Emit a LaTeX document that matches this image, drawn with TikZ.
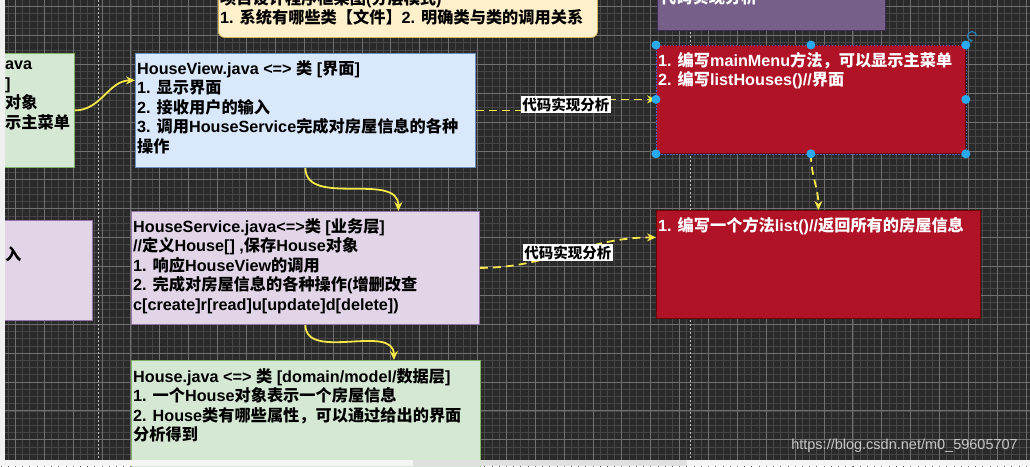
\documentclass[tikz,border=0pt]{standalone}
\usepackage{fontspec}
\setmainfont{Liberation Sans}
\newfontfamily\cjkfont{Noto Sans CJK SC}
% switch to the CJK face for Chinese characters
\XeTeXinterchartokenstate=1
\newXeTeXintercharclass\cjkclass
\makeatletter
\count@="3000
\loop\ifnum\count@<"3040 \XeTeXcharclass\count@=\cjkclass \advance\count@\@ne\repeat
\count@="4E00
\loop\ifnum\count@<"A000 \XeTeXcharclass\count@=\cjkclass \advance\count@\@ne\repeat
\count@="FF00
\loop\ifnum\count@<"FFF0 \XeTeXcharclass\count@=\cjkclass \advance\count@\@ne\repeat
\makeatother
\XeTeXinterchartoks 0 \cjkclass = {\begingroup\cjkfont}
\XeTeXinterchartoks 4095 \cjkclass = {\begingroup\cjkfont}
\XeTeXinterchartoks \cjkclass 0 = {\endgroup}
\XeTeXinterchartoks \cjkclass 4095 = {\endgroup}
\usepackage{tikz}
\usetikzlibrary{arrows.meta, positioning}
\definecolor{colCanvas}{RGB}{42,42,42}
\definecolor{colGridMinor}{RGB}{70,70,70}
\definecolor{colGridMajor}{RGB}{112,112,112}
\definecolor{colGreen}{RGB}{213,232,212}
\definecolor{colGreenLine}{RGB}{130,179,102}
\definecolor{colBlue}{RGB}{218,232,252}
\definecolor{colBlueLine}{RGB}{108,142,191}
\definecolor{colLilac}{RGB}{225,213,231}
\definecolor{colLilacLine}{RGB}{150,115,166}
\definecolor{colNote}{RGB}{255,240,204}
\definecolor{colNoteLine}{RGB}{214,182,86}
\definecolor{colRed}{RGB}{176,18,38}
\definecolor{colRedLine}{RGB}{111,0,0}
\definecolor{colPlum}{RGB}{118,96,138}
\definecolor{colPlumLine}{RGB}{67,45,87}
\definecolor{colLink}{RGB}{245,232,72}
\definecolor{colHandle}{RGB}{41,170,238}

\begin{document}
\begin{tikzpicture}[
		x=1pt, y=-1pt,
		every node/.style={font=\fontsize{16.2}{19.5}\selectfont\bfseries},
		box/.style={draw, line width=0.8pt, anchor=north west, inner sep=0pt},
		boxtext/.style={anchor=north west, align=left, inner sep=0pt},
		link/.style={colLink, line width=1.8pt, -{Stealth[length=9pt, width=8pt]}},
		dlink/.style={link, dash pattern=on 8pt off 5pt},
		lbl/.style={fill=white, text=black, inner xsep=1.5pt, inner ysep=1.5pt,
		            font=\fontsize{14.5}{16}\selectfont\bfseries}
	]
	\useasboundingbox (0,0) rectangle (1030,466);
	\clip (0,0) rectangle (1030,466);
	% canvas
	\fill[colCanvas] (0,0) rectangle (1030,466);
	\draw[colGridMinor, line width=0.6pt, shift={(15.3,6.5)}, step=7.22pt] (-16,-8) grid (1030,466);
	\draw[colGridMajor, line width=0.7pt, shift={(15.3,6.5)}, step=28.88pt] (-16,-8) grid (1030,466);
	\draw[white!75!black, line width=0.8pt, dash pattern=on 2pt off 2pt] (98,0) -- (98,466);
	\draw[white!75!black, line width=0.8pt, dash pattern=on 2pt off 2pt] (690,0) -- (690,466);

	% boxes
	\node[box, fill=colGreen, draw=colGreenLine, minimum width=100, minimum height=114]
	     (main) at (-26,53) {};
	\node[box, rounded corners=6pt, fill=colNote, draw=colNoteLine, minimum width=379, minimum height=60]
	     (plan) at (218,-23) {};
	\node[box, fill=colBlue, draw=colBlueLine, minimum width=340, minimum height=114]
	     (view) at (135,53) {};
	\node[box, fill=colPlum, draw=colPlumLine, minimum width=228, minimum height=60]
	     (code) at (657,-30) {};
	\node[box, fill=colRed, draw=colRedLine, minimum width=309, minimum height=108]
	     (viewcode) at (656,45) {};
	\node[box, fill=colLilac, draw=colLilacLine, minimum width=112, minimum height=100]
	     (menu) at (-20,220) {};
	\node[box, fill=colLilac, draw=colLilacLine, minimum width=348, minimum height=113]
	     (service) at (131,211) {};
	\node[box, fill=colRed, draw=colRedLine, minimum width=324, minimum height=108]
	     (servicecode) at (656,210) {};
	\node[box, fill=colGreen, draw=colGreenLine, minimum width=349, minimum height=120]
	     (house) at (131,360) {};

	% texts
	\node[boxtext] at (5,61) {ava\\]\\对象\\示主菜单};
	\node[boxtext] at (220,-10) {项目设计程序框架图(分层模式)\\1. 系统有哪些类【文件】2. 明确类与类的调用关系};
	\node[boxtext] at ([shift={(2,7)}]view.north west)
	     {HouseView.java <=> 类 [界面]\\1. 显示界面\\2. 接收用户的输入\\3. 调用HouseService完成对房屋信息的各种\\操作};
	\node[boxtext, text=white] at (660,-11) {代码实现分析};
	\node[boxtext, text=white] at ([shift={(2,7)}]viewcode.north west)
	     {1. 编写mainMenu方法，可以显示主菜单\\2. 编写listHouses()//界面};
	\node[boxtext] at (5,246) {入};
	\node[boxtext] at ([shift={(2,7)}]service.north west)
	     {HouseService.java<=>类 [业务层]\\//定义House[] ,保存House对象\\1. 响应HouseView的调用\\2. 完成对房屋信息的各种操作(增删改查\\c[create]r[read]u[update]d[delete])};
	\node[boxtext, text=white] at ([shift={(2,7)}]servicecode.north west)
	     {1. 编写一个方法list()//返回所有的房屋信息};
	\node[boxtext] at ([shift={(2,8)}]house.north west)
	     {House.java <=> 类 [domain/model/数据层]\\1. 一个House对象表示一个房屋信息\\2. House类有哪些属性，可以通过给出的界面\\分析得到};

	% connectors
	\draw[link] (main.east) to[out=0, in=180] ([yshift=30pt]view.west);
	\draw[link] (view.south) to[out=-90, in=90] ([xshift=93pt]service.north);
	\draw[link] (service.south) to[out=-90, in=90] ([xshift=88pt]house.north);
	\draw[dlink] (view.east) -- ++(90,0) |- node[lbl, pos=0.25] {代码实现分析} (viewcode.west);
	\draw[dlink] (service.east) to[out=0, in=180] node[lbl] {代码实现分析} ([yshift=27pt]servicecode.west);
	\draw[dlink] (viewcode.south) to[out=-90, in=90] (servicecode.north);

	% selection of the upper red box
	\draw[colBlueLine!70!blue, line width=0.6pt, dash pattern=on 1.5pt off 1.5pt]
	     (viewcode.north west) rectangle (viewcode.south east);
	\foreach \a in {north west, north, north east, west, east, south west, south, south east}
		\fill[colHandle] (viewcode.\a) circle (4.5);
	\draw[colHandle!80!black, line width=1.1pt, -{Stealth[length=3pt, width=3.5pt]}]
	     (976.5,36) arc[start angle=0, end angle=-280, radius=4.5];

	% window edges
	\fill[black!6] (0,0) rectangle (5,466);
	\fill[black!4] (0,460) rectangle (1030,466);
	\fill[black!12] (413,460) rectangle (687,466);
	\node[font=\fontsize{14.5}{16}\selectfont, text=black!22, anchor=east, inner sep=0pt]
	     (url) at (1018,446) {https://blog.csdn.net/m0\_59605707};
\end{tikzpicture}
\end{document}
